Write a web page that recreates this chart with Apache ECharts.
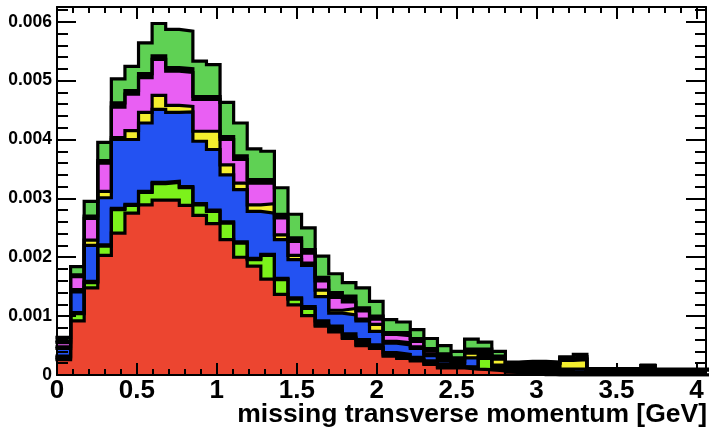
<!DOCTYPE html>
<html>
<head>
<meta charset="utf-8">
<script src="https://cdn.jsdelivr.net/npm/echarts@6/dist/echarts.min.js"></script>
<style>html,body{margin:0;padding:0;background:#fff}#c{width:710px;height:433px}</style>
</head>
<body>
<div id="c"></div>
<script>
// Histogram binning (GeV)
const binWidth = 0.085;
const xMax = 4.06;
const yMax = 0.00625;
const yUnit = 1e-3; // values below are in units of 1e-3

// Stacked layers, bottom to top (per bin, units of 1e-3)
const red = [0.26,0.92,1.48,2.03,2.41,2.75,2.89,2.97,2.97,2.88, 2.71,2.57,2.30,2.00,1.85,1.63,1.37,1.19,1.01,0.83, 0.73,0.62,0.50,0.45,0.32,0.28,0.24,0.18,0.12,0.12, 0.10,0.09,0.07,0.04,0.04,0.03,0,0,0,0, 0,0,0,0,0,0,0,0];
const lime = [0.03,0.12,0.09,0.16,0.40,0.13,0.21,0.28,0.30,0.30, 0.18,0.21,0.28,0.24,0.11,0.40,0.25,0.10,0.12,0.02, 0.02,0.02,0.02,0.02,0.02,0.02,0.02,0.02,0.02,0.02, 0.02,0.19,0.02,0.01,0.01,0.01,0,0,0,0, 0,0,0,0,0,0,0,0];
const black1 = [0.03,0.02,0.02,0.02,0.02,0.02,0.02,0.02,0.02,0.02, 0.02,0.02,0.02,0.02,0.02,0.02,0.02,0.02,0.03,0.07, 0.08,0.06,0.08,0.04,0.04,0.05,0.04,0.04,0.05,0.05, 0.02,0.02,0.06,0.15,0.16,0.17,0.20,0.09,0.05,0.10, 0.10,0.10,0.10,0.16,0.09,0.09,0.09,0.09];
const blue = [0.13,0.35,0.61,0.80,1.17,1.10,1.16,1.24,1.17,1.27, 1.06,1.03,0.80,0.89,0.80,0.70,0.66,0.65,0.70,0.41, 0.22,0.32,0.32,0.23,0.16,0.16,0.15,0.09,0.06,0.02, 0.15,0.03,0.02,0,0,0,0,0.01,0.05,0, 0,0,0,0,0,0,0,0];
const yellow = [0.03,0.04,0.09,0.11,0.03,0.15,0.18,0.24,0.12,0.09, 0.17,0.31,0.17,0.11,0.11,0.16,0.08,0.07,0.04,0.11, 0.05,0.11,0.03,0.12,0.03,0.04,0.03,0.03,0.03,0.02, 0.08,0.03,0.10,0,0,0,0,0.15,0.16,0, 0,0,0,0,0,0,0,0];
const magenta = [0.07,0.22,0.37,0.48,0.52,0.62,0.59,0.61,0.58,0.58, 0.54,0.54,0.43,0.40,0.37,0.35,0.29,0.24,0.17,0.16, 0.22,0.11,0.14,0.09,0.12,0.12,0.09,0.05,0.03,0.03, 0.03,0.03,0.02,0,0,0,0,0.02,0.02,0, 0,0,0,0,0,0,0,0];
const black2 = [0.03,0.03,0.04,0.04,0.07,0.06,0.07,0.06,0.06,0.06, 0.05,0.05,0.05,0.06,0.06,0.06,0.06,0.06,0.06,0.06, 0.08,0.10,0.05,0.05,0.03,0.05,0.05,0.04,0.05,0.03, 0.04,0.05,0.03,0.01,0.01,0.01,0.01,0.02,0.03,0, 0,0,0,0,0,0,0,0];
const green = [0.06,0.14,0.25,0.31,0.41,0.41,0.52,0.55,0.65,0.64, 0.60,0.54,0.58,0.56,0.52,0.48,0.45,0.40,0.37,0.36, 0.32,0.23,0.34,0.25,0.22,0.18,0.15,0.17,0.14,0.11, 0.17,0.12,0.08,0.01,0.01,0.01,0.01,0.02,0.04,0.01, 0.01,0.01,0.01,0.01,0.01,0.01,0.01,0.01];

const xTickLabels = ['0','0.5','1','1.5','2','2.5','3','3.5','4'];
const yTickLabels = ['0','0.001','0.002','0.003','0.004','0.005','0.006'];
const xTitle = 'missing transverse momentum [GeV]';

const layers = [
  {data: red, color: '#ec4530'},
  {data: lime, color: '#7cf21b'},
  {data: black1, color: '#000000'},
  {data: blue, color: '#2352f2'},
  {data: yellow, color: '#f4ee2e'},
  {data: magenta, color: '#e95ff3'},
  {data: black2, color: '#000000'},
  {data: green, color: '#5fd154'}
];

// bin edges and cumulative stack (like THStack)
const edges = [];
for (let k = 0; k <= red.length; k++) edges.push(+(k * binWidth).toFixed(5));
const cumul = [];
let run = red.map(() => 0);
layers.forEach(l => {
  run = run.map((s, i) => s + l.data[i]);
  cumul.push(run.slice());
});
function pts(vals) {
  const d = vals.map((v, i) => [edges[i], v * yUnit]);
  d.push([edges[vals.length], vals[vals.length - 1] * yUnit]);
  return d;
}

const series = [];
// fills: total first, then each lower partial sum painted over it
for (let i = layers.length - 1; i >= 0; i--) {
  series.push({
    type: 'line', step: 'end', symbol: 'none', silent: true,
    data: pts(cumul[i]), z: 2,
    lineStyle: {width: 0, opacity: 0},
    areaStyle: {color: layers[i].color, opacity: 1, origin: 'start'}
  });
}
// black outlines of every partial sum
for (let i = layers.length - 1; i >= 0; i--) {
  series.push({
    type: 'line', step: 'end', symbol: 'none', silent: true,
    data: pts(cumul[i]), z: 3,
    lineStyle: {color: '#000', width: 3.2, join: 'miter', cap: 'square'}
  });
}

const tickStyle = {color: '#000', width: 2};
const lineStyle = {color: '#000', width: 2};
function xFmt(v) {
  const h = v * 2;
  if (Math.abs(h - Math.round(h)) > 1e-6) return '';
  return xTickLabels[Math.round(h)] || '';
}
function yFmt(v) {
  const r = v * 1000;
  if (Math.abs(r - Math.round(r)) > 1e-6) return '';
  return yTickLabels[Math.round(r)] || '';
}
const labelFont = {fontFamily: 'Liberation Sans', fontWeight: 'bold', color: '#000'};

function xAx(pos, interval, len, showLine, showLabel) {
  return {
    type: 'value', position: pos, min: 0, max: xMax, interval: interval, z: 10,
    splitLine: {show: false},
    axisLine: {show: showLine, onZero: false, lineStyle: lineStyle},
    axisTick: {show: true, inside: true, length: len, lineStyle: tickStyle},
    axisLabel: showLabel ? Object.assign({show: true, formatter: xFmt, fontSize: 26, margin: 3}, labelFont) : {show: false}
  };
}
function yAx(pos, interval, len, showLine, showLabel) {
  return {
    type: 'value', position: pos, min: 0, max: yMax, interval: interval, z: 10,
    splitLine: {show: false},
    axisLine: {show: showLine, onZero: false, lineStyle: lineStyle},
    axisTick: {show: true, inside: true, length: len, lineStyle: tickStyle},
    axisLabel: showLabel ? Object.assign({show: true, formatter: yFmt, fontSize: 17.5, margin: 5}, labelFont) : {show: false}
  };
}

const option = {
  animation: false,
  textStyle: {fontFamily: 'Liberation Sans'},
  title: {
    text: xTitle, right: 3, top: 401, padding: 0,
    textStyle: {fontSize: 26.5, fontWeight: 'bold', color: '#000', fontFamily: 'Liberation Sans'}
  },
  grid: {left: 57, right: 4, top: 7, bottom: 58, containLabel: false},
  xAxis: [
    xAx('bottom', 0.5, 12, true, true),
    xAx('bottom', 0.1, 6, false, false),
    xAx('top', 0.5, 12, true, false),
    xAx('top', 0.1, 6, false, false)
  ],
  yAxis: [
    yAx('left', 0.001, 19, true, true),
    yAx('left', 0.0002, 11, false, false),
    yAx('right', 0.001, 20, true, false),
    yAx('right', 0.0002, 11, false, false)
  ],
  series: series
};

const chart = echarts.init(document.getElementById('c'), null, {renderer: 'canvas'});
chart.setOption(option);
</script>
</body>
</html>
